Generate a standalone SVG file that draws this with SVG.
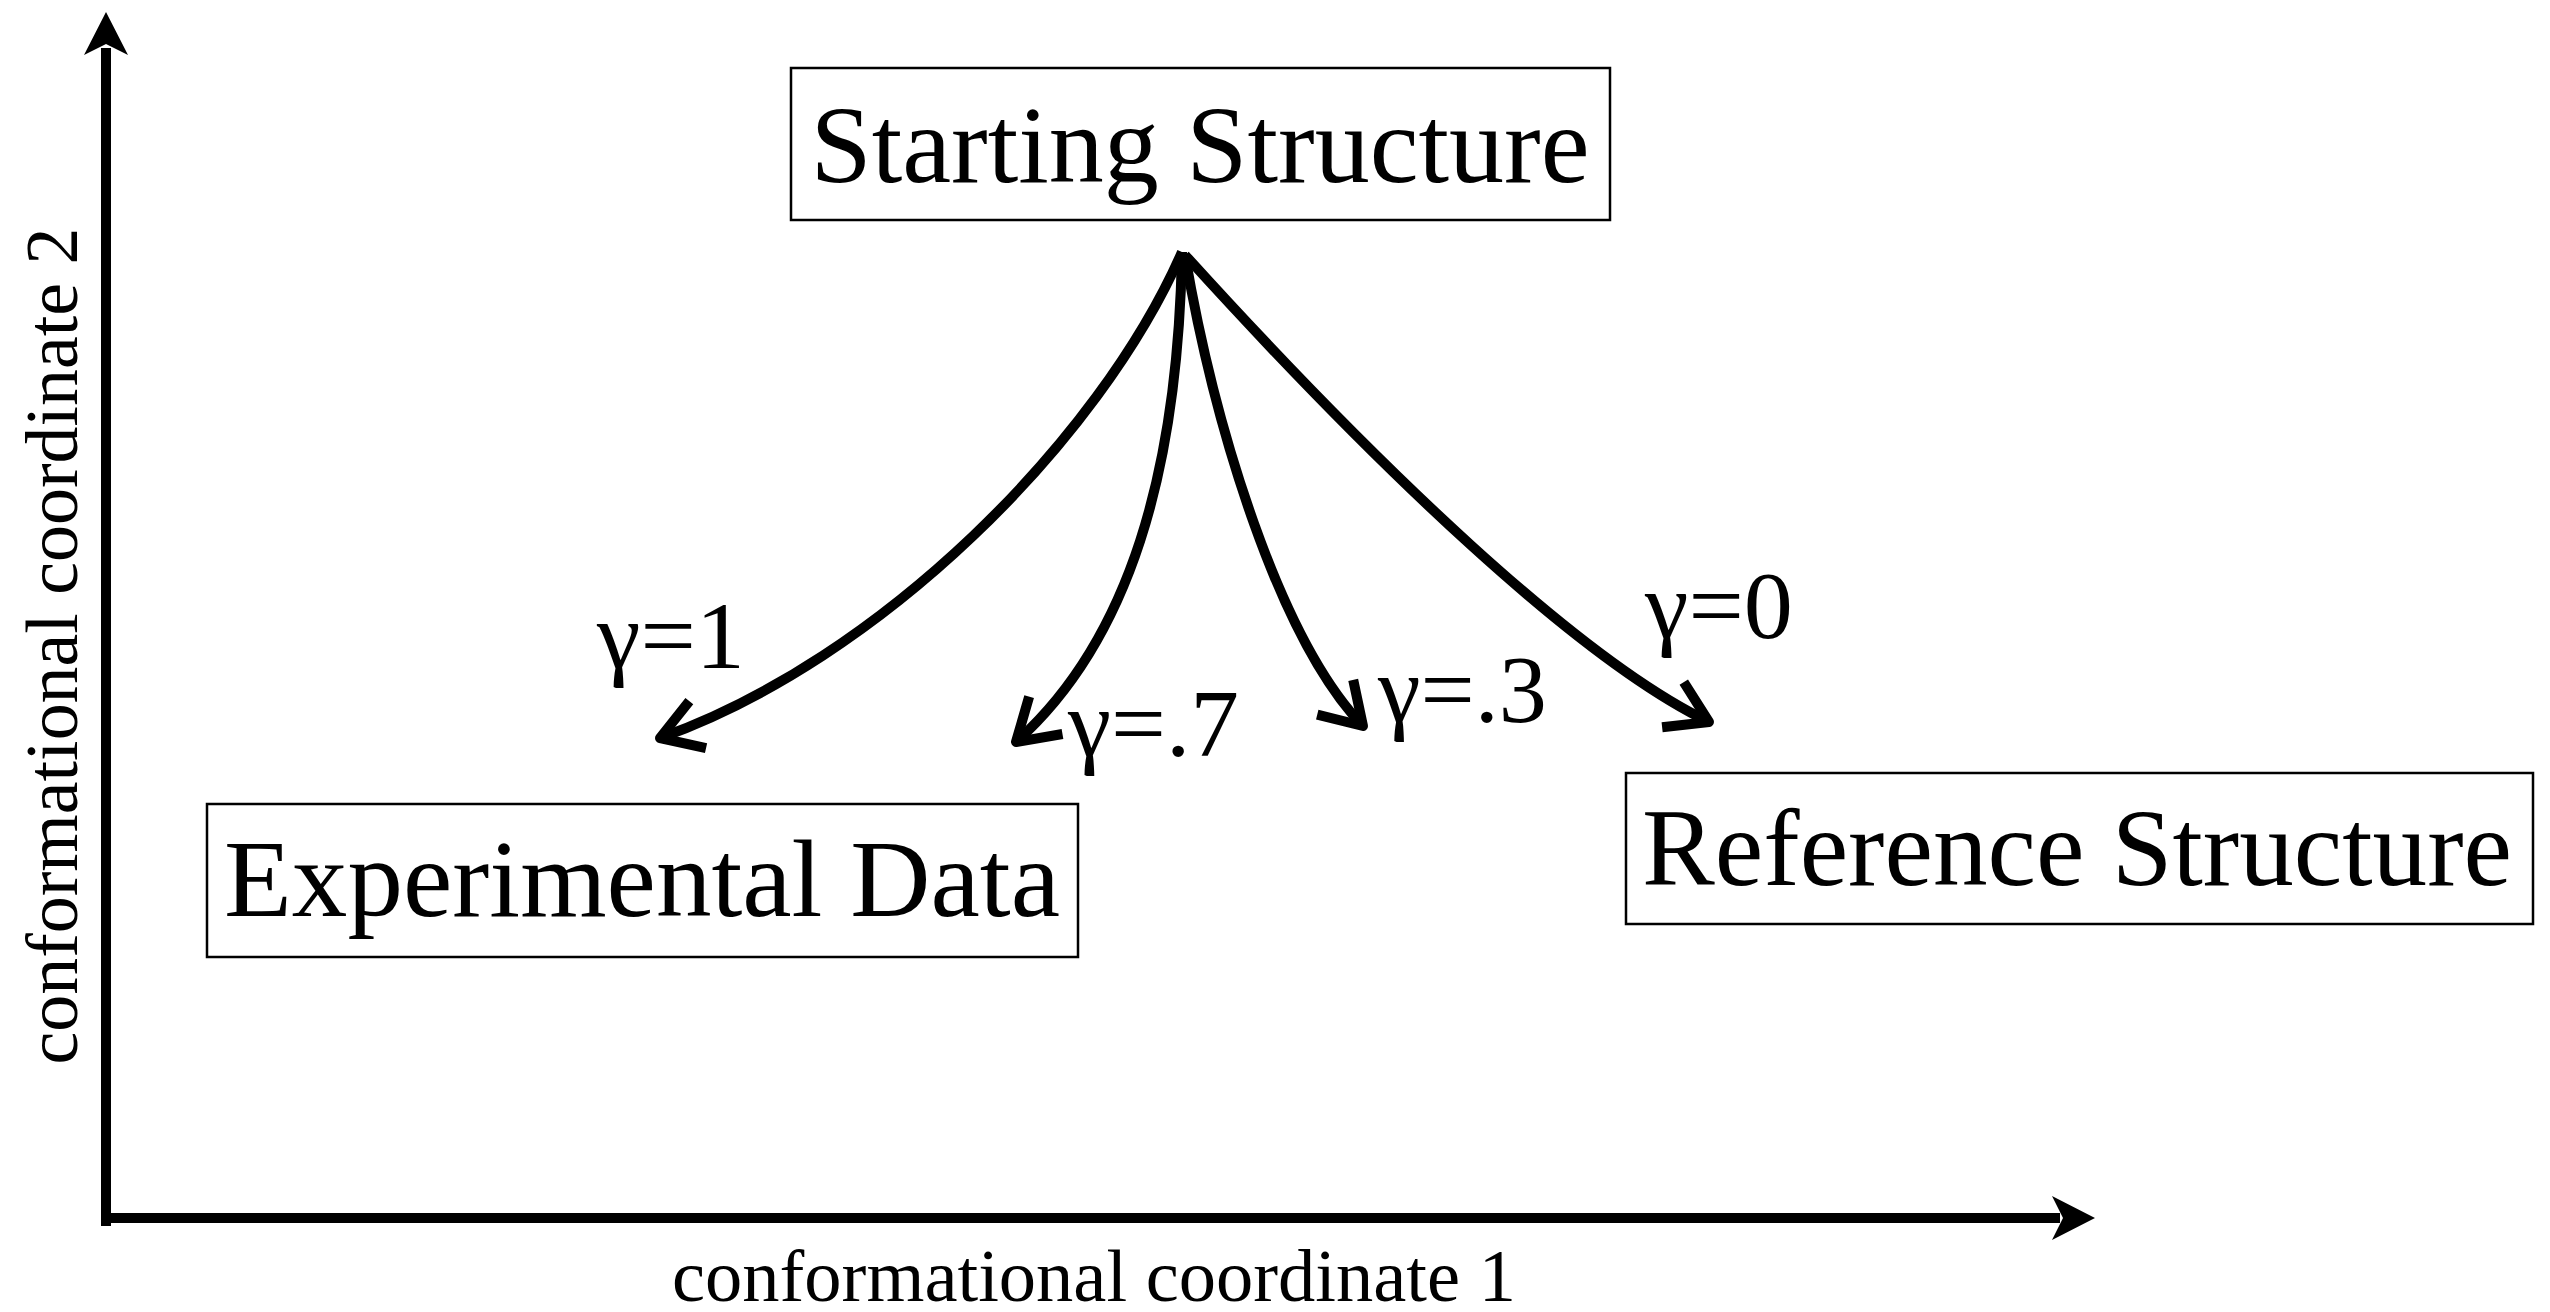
<svg xmlns="http://www.w3.org/2000/svg" width="2550" height="1312" viewBox="0 0 2550 1312">
<style>
.box{fill:#fff;stroke:#000;stroke-width:2.5}
.lbl{font-family:"Liberation Serif","Times New Roman",serif;font-size:110px;fill:#000}
.ax{font-family:"Liberation Serif","Times New Roman",serif;font-size:75px;fill:#000}
.g{font-family:"Liberation Serif","Times New Roman",serif;font-size:95px;fill:#000}
.axis{stroke:#000;stroke-width:10;fill:none}
.curve{stroke:#000;stroke-width:10;fill:none;marker-end:url(#open)}
</style>
<defs>
<marker id="open" markerUnits="userSpaceOnUse" viewBox="-60 -40 80 80" markerWidth="80" markerHeight="80" refX="0" refY="0" orient="auto" overflow="visible">
<path d="M -40 -25 L 0 0 L -40 25" fill="none" stroke="#000" stroke-width="10" stroke-linejoin="round"/>
</marker>
</defs>
<rect width="2550" height="1312" fill="#fff"/>
<g id="axes">
<line class="axis" x1="106" y1="1226" x2="106" y2="48"/>
<path d="M106,12 L128,55 L106,44 L84,55 Z" fill="#000"/>
<line class="axis" x1="101" y1="1218" x2="2060" y2="1218"/>
<path d="M2095,1218 L2052,1196 L2063,1218 L2052,1240 Z" fill="#000"/>
<text class="ax" x="1094" y="1301" text-anchor="middle" textLength="844" lengthAdjust="spacingAndGlyphs">conformational coordinate 1</text>
<text class="ax" transform="translate(77,646) rotate(-90)" x="0" y="0" text-anchor="middle" textLength="837" lengthAdjust="spacingAndGlyphs">conformational coordinate 2</text>
</g>
<g id="starting-structure">
<rect class="box" x="791" y="68" width="819" height="152"/>
<text class="lbl" x="1200" y="182" text-anchor="middle" font-size="112" textLength="779" lengthAdjust="spacingAndGlyphs">Starting Structure</text>
</g>
<g id="experimental-data">
<rect class="box" x="207" y="804" width="871" height="153"/>
<text class="lbl" x="642" y="916" text-anchor="middle" textLength="836" lengthAdjust="spacingAndGlyphs">Experimental Data</text>
</g>
<g id="reference-structure">
<rect class="box" x="1626" y="773" width="907" height="151"/>
<text class="lbl" x="2077" y="885" text-anchor="middle" textLength="870" lengthAdjust="spacingAndGlyphs">Reference Structure</text>
</g>
<g id="connectors">
<path class="curve" d="M1182,252 C1100,440 880,660 660,738"/>
<path class="curve" d="M1182,252 C1178,470 1130,640 1016,742"/>
<path class="curve" d="M1185,255 C1215,430 1280,640 1363,726"/>
<path class="curve" d="M1185,255 C1380,470 1580,660 1709,722"/>
</g>
<g id="labels">
<text class="g" x="597" y="668" textLength="148" lengthAdjust="spacingAndGlyphs">γ=1</text>
<text class="g" x="1068" y="756" textLength="171" lengthAdjust="spacingAndGlyphs">γ=.7</text>
<text class="g" x="1378" y="722" textLength="169" lengthAdjust="spacingAndGlyphs">γ=.3</text>
<text class="g" x="1645" y="638" textLength="148" lengthAdjust="spacingAndGlyphs">γ=0</text>
</g>
</svg>
